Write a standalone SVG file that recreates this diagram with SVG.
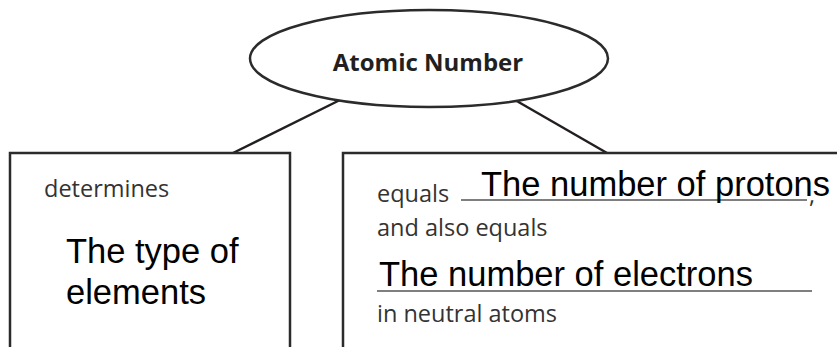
<svg xmlns="http://www.w3.org/2000/svg" width="837" height="347" viewBox="0 0 837 347">
<style>
.shape{fill:#fff;stroke:#2b2b2b;stroke-width:2.5}
.conn{stroke:#231f20;stroke-width:2.5;fill:none}
.small{font-family:"Open Sans",Lato,sans-serif;font-size:23.5px;fill:#333}
.big{font-family:"Liberation Sans",Arial,sans-serif;font-size:34.5px;fill:#000}
.uline{stroke:#555;stroke-width:1.5}
.title{font-family:"Open Sans",Lato,sans-serif;font-size:24px;font-weight:bold;fill:#231f20}
</style>
<rect width="837" height="347" fill="#fff"/>
<g id="connectors">
<line class="conn" x1="340" y1="100" x2="233" y2="153"/>
<line class="conn" x1="515" y1="100" x2="607" y2="153"/>
</g>
<g id="node-atomic-number">
<ellipse class="shape" cx="429" cy="58.5" rx="179" ry="48.5"/>
<text class="title" x="428" y="71" text-anchor="middle">Atomic Number</text>
</g>
<g id="node-type">
<rect class="shape" x="10" y="153" width="280" height="210"/>
<text class="small" x="44" y="197">determines</text>
<text class="big" x="66" y="263">The type of</text>
<text class="big" x="66" y="304">elements</text>
</g>
<g id="node-equals">
<rect class="shape" x="343" y="153" width="510" height="210"/>
<text class="small" x="377" y="202">equals</text>
<line class="uline" x1="461" y1="200" x2="807" y2="200"/>
<text class="big" x="481" y="196">The number of protons</text>
<text class="small" x="809" y="203">,</text>
<text class="small" x="377" y="236">and also equals</text>
<text class="big" x="379" y="286">The number of electrons</text>
<line class="uline" x1="377" y1="291" x2="812" y2="291"/>
<text class="small" x="377" y="322">in neutral atoms</text>
</g>
</svg>
